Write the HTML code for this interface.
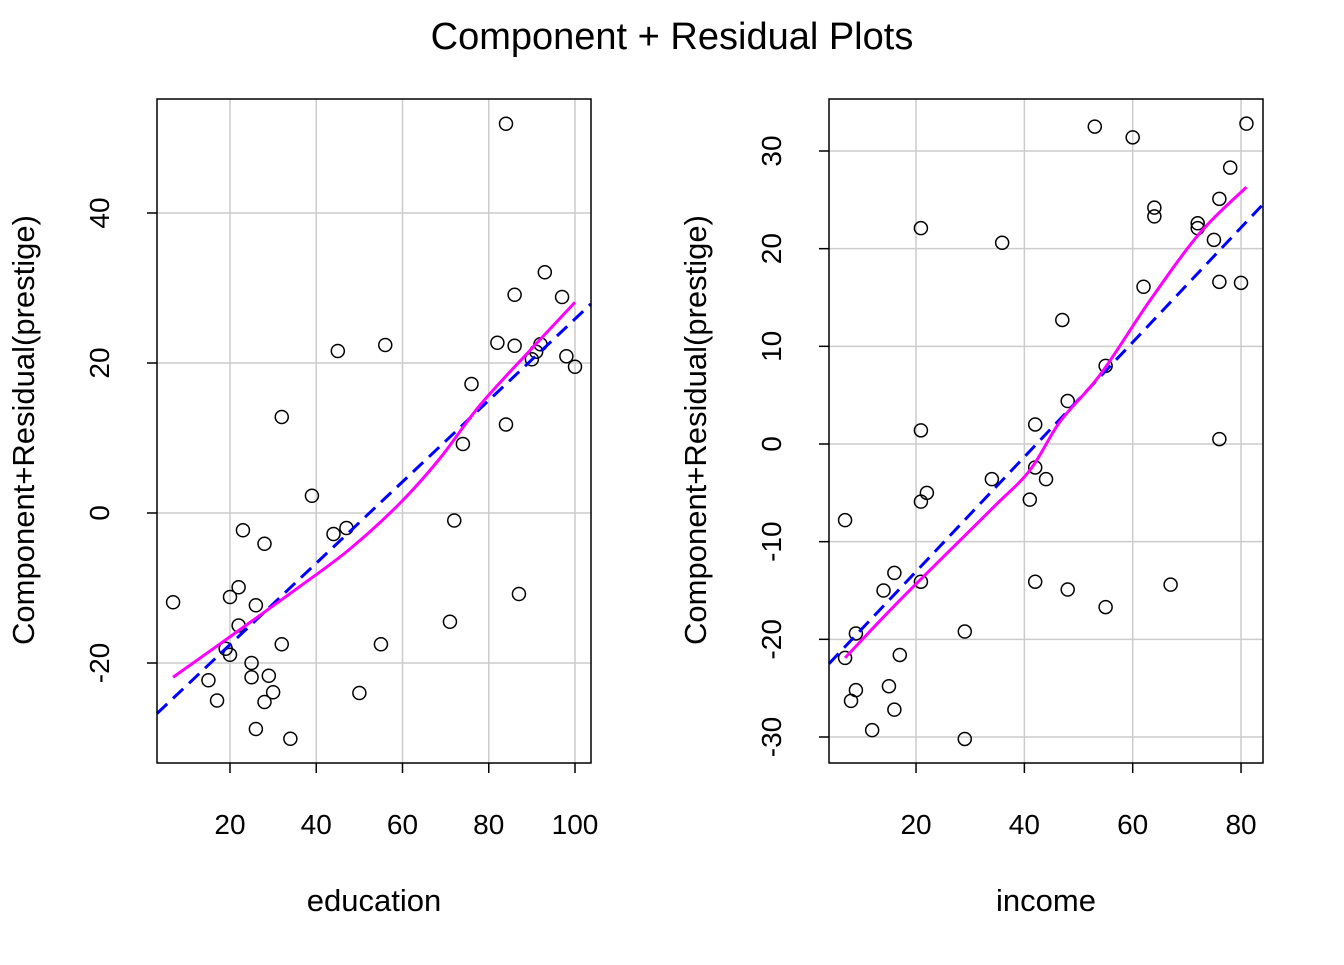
<!DOCTYPE html>
<html><head><meta charset="utf-8"><style>
body{margin:0;background:#fff;}
svg text{font-family:"Liberation Sans",Arial,sans-serif;fill:#000;}
</style></head><body>
<svg id="chart" width="1344" height="960" viewBox="0 0 1344 960">
<text x="672" y="49" font-size="38" text-anchor="middle">Component + Residual Plots</text>
<g id="p1"></g>
<g id="p2"></g>
</svg>
<script>
const eduX=[6.8,15,17,20,22,23,28,22,19,20,26,25,25,28,29,30,26,34,32,32,39,44,47,45,56,50,55,71,72,74,76,82,84,84,86,86,87,90,91,92,93,97,98,100];
const eduY=[-11.9,-22.3,-25,-11.2,-9.9,-2.3,-4.1,-15,-18.1,-18.9,-12.3,-20,-21.9,-25.2,-21.7,-23.9,-28.8,-30.1,-17.5,12.8,2.3,-2.8,-2,21.6,22.4,-24,-17.5,-14.5,-1,9.2,17.2,22.7,51.9,11.8,29.1,22.3,-10.8,20.5,21.5,22.5,32.1,28.8,20.9,19.5];
const eduFit=[0.5427,-28.4];
const eduSmX=[6.8,20,36.2,47.8,59.4,68.7,78,89.6,100];
const eduSmY=[-21.9,-16.5,-9.8,-4.8,1.3,7.3,14.4,21.7,28.1];
const eduXTicks=[20,40,60,80,100];
const eduYTicks=[-20,0,20,40];

const incX=[6.9,6.9,8,8.9,8.9,11.9,14,15,16,16,17,20.9,20.9,20.9,20.9,22,29,29,34,35.9,41,42,42,42,44,47,48,48,55,55,53,60,62,64,64,67,72,72,75,76,76,76,78,80,81];
const incY=[-7.8,-21.9,-26.3,-25.2,-19.4,-29.3,-15,-24.8,-13.2,-27.2,-21.6,22.1,1.4,-5.9,-14.1,-5,-19.2,-30.2,-3.6,20.6,-5.7,2,-2.4,-14.1,-3.6,12.7,4.4,-14.9,8,-16.7,32.5,31.4,16.1,24.2,23.3,-14.4,22.6,22.1,20.9,25.1,16.6,0.5,28.3,16.5,32.8];
const incFit=[0.587,-24.8];
const incSmX=[6.9,17,33.7,41,46.6,54,63.2,72.4,81];
const incSmY=[-21.9,-16,-6.8,-2.7,2.3,7.1,14.7,21.6,26.3];
const incXTicks=[20,40,60,80];
const incYTicks=[-30,-20,-10,0,10,20,30];

const NS="http://www.w3.org/2000/svg";
function mk(parent,tag,attrs){const e=document.createElementNS(NS,tag);for(const k in attrs)e.setAttribute(k,attrs[k]);parent.appendChild(e);return e;}
function smoothPath(p){let d='M'+p[0][0]+','+p[0][1];
  for(let i=0;i<p.length-1;i++){const p0=p[Math.max(0,i-1)],p1=p[i],p2=p[i+1],p3=p[Math.min(p.length-1,i+2)];
    d+=' C'+(p1[0]+(p2[0]-p0[0])/6)+','+(p1[1]+(p2[1]-p0[1])/6)+' '+(p2[0]-(p3[0]-p1[0])/6)+','+(p2[1]-(p3[1]-p1[1])/6)+' '+p2[0]+','+p2[1];}
  return d;}

function panel(g,box,xs,ys,X,Y,fit,smX,smY,xT,yT,xlab){
  const [L,T,R,B]=box;
  const sx=v=>xs[0]+v*xs[1], sy=v=>ys[0]-v*ys[1];
  xT.forEach(t=>{const l=mk(g,'line',{x1:sx(t),x2:sx(t),y1:T,y2:B,stroke:'#cccccc','stroke-width':1.5});
    
    });
  yT.forEach(t=>{const l=mk(g,'line',{x1:L,x2:R,y1:sy(t),y2:sy(t),stroke:'#cccccc','stroke-width':1.5});
    
    });
  X.forEach((x,i)=>{const c=mk(g,'circle',{cx:sx(x),cy:sy(Y[i]),r:6.5,fill:'none',stroke:'#000','stroke-width':1.5});
    
    });
  const fl=mk(g,'line',{x1:L,y1:sy(fit[0]*((L-xs[0])/xs[1])+fit[1]),x2:R,y2:sy(fit[0]*((R-xs[0])/xs[1])+fit[1]),stroke:'#0000ff','stroke-width':3,'stroke-dasharray':'14,8'});
  
  
  const sm=mk(g,'path',{d:smoothPath(smX.map((x,i)=>[sx(x),sy(smY[i])])),fill:'none',stroke:'#ff00ff','stroke-width':3});
  
  
  const fr=mk(g,'rect',{x:L,y:T,width:R-L,height:B-T,fill:'none',stroke:'#000','stroke-width':1.5});
  
  
  xT.forEach(t=>{mk(g,'line',{x1:sx(t),x2:sx(t),y1:B,y2:B+10,stroke:'#000','stroke-width':1.5});
    const tx=mk(g,'text',{x:sx(t),y:B+71,'font-size':28,'text-anchor':'middle'});tx.textContent=t;
    
    });
  yT.forEach(t=>{mk(g,'line',{x1:L-10,x2:L,y1:sy(t),y2:sy(t),stroke:'#000','stroke-width':1.5});
    const tx=mk(g,'text',{x:L-48,y:sy(t),'font-size':28,'text-anchor':'middle',transform:`rotate(-90 ${L-48} ${sy(t)})`});tx.textContent=t;
    
    });
  const xl=mk(g,'text',{x:(L+R)/2,y:911,'font-size':31,'text-anchor':'middle'});xl.textContent=xlab;
  
  
  const yx=L-123,yy=(T+B)/2-1;
  const yl=mk(g,'text',{x:yx,y:yy,'font-size':31,'text-anchor':'middle',transform:`rotate(-90 ${yx} ${yy})`});yl.textContent='Component+Residual(prestige)';
  
  
}
panel(document.getElementById('p1'),[157,99,591,763],[143.75,4.3125],[513,7.5],eduX,eduY,eduFit,eduSmX,eduSmY,eduXTicks,eduYTicks,'education');
panel(document.getElementById('p2'),[829,99,1263,763],[807.7,5.4167],[444,9.767],incX,incY,incFit,incSmX,incSmY,incXTicks,incYTicks,'income');
</script>
</body></html>
